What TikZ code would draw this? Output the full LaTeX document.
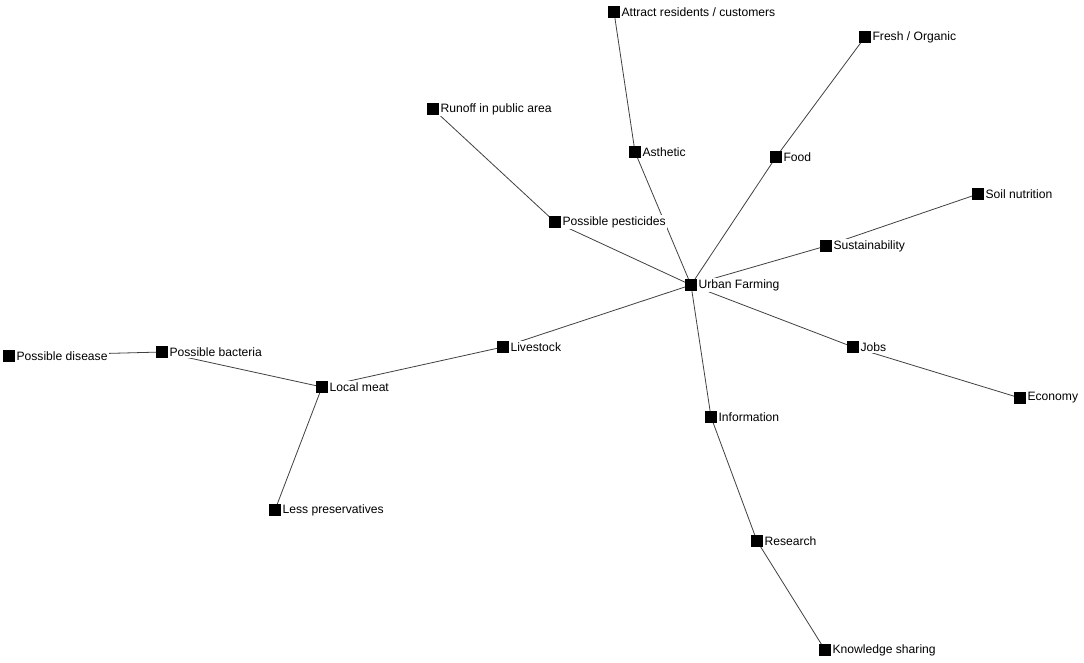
\documentclass[tikz,border=0pt]{standalone}
\usepackage{fontspec}
\setmainfont{Liberation Sans}
\usetikzlibrary{positioning}

\begin{document}
\begin{tikzpicture}[x=0.75pt, y=-0.75pt,
		dot/.style={rectangle, fill=black, inner sep=0pt, minimum size=8.5pt},
		lbl/.style={fill=white, inner sep=1pt, anchor=west, font=\fontsize{9.1}{10}\selectfont},
		link/.style={line width=0.6pt, color=black!75}]
		
		\useasboundingbox (0,0) rectangle (1084,663);
		
		% squares
		\node[dot] (uf) at (691,285) {};
		\node[dot] (asth) at (635,152) {};
		\node[dot] (attract) at (614,12) {};
		\node[dot] (food) at (776,157) {};
		\node[dot] (fresh) at (865,37) {};
		\node[dot] (pest) at (555,222) {};
		\node[dot] (runoff) at (433,109) {};
		\node[dot] (sust) at (826,246) {};
		\node[dot] (soil) at (978,194) {};
		\node[dot] (jobs) at (853,347) {};
		\node[dot] (econ) at (1020,398) {};
		\node[dot] (info) at (711,417) {};
		\node[dot] (research) at (757,541) {};
		\node[dot] (know) at (825,650) {};
		\node[dot] (live) at (503,347) {};
		\node[dot] (meat) at (322,387) {};
		\node[dot] (bact) at (162,352) {};
		\node[dot] (disease) at (9,356) {};
		\node[dot] (less) at (275,510) {};
		
		% links
		\draw[link] (uf) -- (asth);
		\draw[link] (asth) -- (attract);
		\draw[link] (uf) -- (food);
		\draw[link] (food) -- (fresh);
		\draw[link] (uf) -- (pest);
		\draw[link] (pest) -- (runoff);
		\draw[link] (uf) -- (sust);
		\draw[link] (sust) -- (soil);
		\draw[link] (uf) -- (jobs);
		\draw[link] (jobs) -- (econ);
		\draw[link] (uf) -- (info);
		\draw[link] (info) -- (research);
		\draw[link] (research) -- (know);
		\draw[link] (uf) -- (live);
		\draw[link] (live) -- (meat);
		\draw[link] (meat) -- (bact);
		\draw[link] (bact) -- (disease);
		\draw[link] (meat) -- (less);
		
		% labels
		\node[lbl, right=0pt of uf] {Urban Farming};
		\node[lbl, right=0pt of asth] {Asthetic};
		\node[lbl, right=0pt of attract] {Attract residents / customers};
		\node[lbl, right=0pt of food] {Food};
		\node[lbl, right=0pt of fresh] {Fresh / Organic};
		\node[lbl, right=0pt of pest] {Possible pesticides};
		\node[lbl, right=0pt of runoff] {Runoff in public area};
		\node[lbl, right=0pt of sust] {Sustainability};
		\node[lbl, right=0pt of soil] {Soil nutrition};
		\node[lbl, right=0pt of jobs] {Jobs};
		\node[lbl, right=0pt of econ] {Economy};
		\node[lbl, right=0pt of info] {Information};
		\node[lbl, right=0pt of research] {Research};
		\node[lbl, right=0pt of know] {Knowledge sharing};
		\node[lbl, right=0pt of live] {Livestock};
		\node[lbl, right=0pt of meat] {Local meat};
		\node[lbl, right=0pt of bact] {Possible bacteria};
		\node[lbl, right=0pt of disease] {Possible disease};
		\node[lbl, right=0pt of less] {Less preservatives};
	\end{tikzpicture}
\end{document}
